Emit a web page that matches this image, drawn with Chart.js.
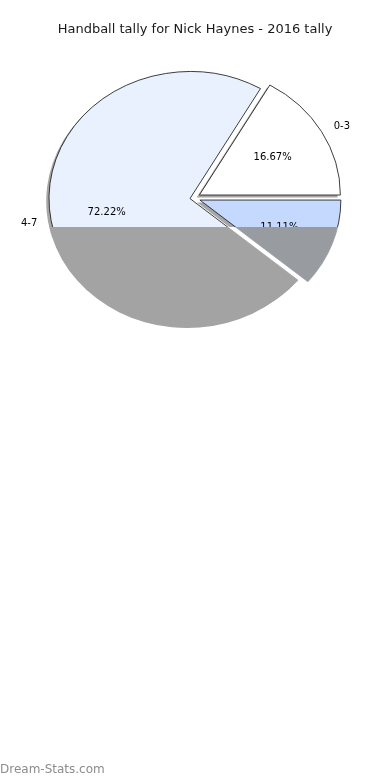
<!DOCTYPE html>
<html>
<head>
<meta charset="utf-8">
<script src="https://cdn.jsdelivr.net/npm/chart.js@4/dist/chart.umd.min.js"></script>
<style>
  html, body { margin: 0; padding: 0; background: #ffffff; }
  #wrap { position: relative; width: 390px; height: 780px; }
  canvas { display: block; }
</style>
</head>
<body>
<div id="wrap"><canvas id="c" width="390" height="780"></canvas></div>
<script>
// Tally data
const title = 'Handball tally for Nick Haynes - 2016 tally';
const categories = ['0-3', '4-7', '8+'];
const values = [3, 13, 2];

// Styling per category
const explodePx = [6, 3.3, 6];
const topColors = ['#ffffff', '#eaf1fe', '#c5d9ff'];
const lowColors = ['#a4a4a4', '#a3a3a3', '#989ba0'];
const lowShadow = [false, true, false];

const W = 390, H = 780;
const RADIUS = 127;          // vertical radius of the pie
const STRETCH = 141 / 127;   // horizontal stretch of the pie
const CUT_Y = 227;           // lower band is drawn in grey
const SHADOW_DX = -2.5, SHADOW_DY = 2.5;
const FONT = '"DejaVu Sans", "Liberation Sans", sans-serif';

const canvas = document.getElementById('c');
const ctx = canvas.getContext('2d');

// slices run clockwise from 3 o'clock, so the categories are fed in reverse
const order = categories.map((_, i) => i).reverse();
const total = values.reduce((a, b) => a + b, 0);

// vertical explode shift of each slot, used to keep the grey band level
const slotDy = [];
{
  let acc = 0;
  order.forEach((i) => {
    const mid = (acc + values[i] / 2) / total * Math.PI * 2;
    slotDy.push(Math.sin(mid) * explodePx[i]);
    acc += values[i];
  });
}

function band(top, low, dy) {
  const g = ctx.createLinearGradient(0, 0, 0, H);
  const s = (CUT_Y - dy) / H;
  g.addColorStop(0, top);
  g.addColorStop(s, top);
  g.addColorStop(s, low);
  g.addColorStop(1, low);
  return g;
}

function stretch(c, chart) {
  const a = chart.chartArea;
  const cx = (a.left + a.right) / 2;
  const cy = (a.top + a.bottom) / 2;
  c.translate(cx, cy);
  c.scale(STRETCH, 1);
  c.translate(-cx, -cy);
}

function explodeShift(arc, k) {
  const mid = (arc.startAngle + arc.endAngle) / 2;
  const e = explodePx[order[k]];
  return [Math.cos(mid) * e, Math.sin(mid) * e];
}

function wedgePath(c, x, y, arc) {
  c.beginPath();
  c.moveTo(x, y);
  c.arc(x, y, arc.outerRadius, arc.startAngle, arc.endAngle);
  c.closePath();
}

// Draws shadows and exploded wedges on a stretched canvas
const explodedPie = {
  id: 'explodedPie',
  beforeDatasetDraw(chart, args) {
    const c = chart.ctx;
    const arcs = args.meta.data;
    c.save();
    stretch(c, chart);

    // drop shadow in the upper band
    c.save();
    c.beginPath();
    c.rect(-W, 0, 3 * W, CUT_Y);
    c.clip();
    c.fillStyle = '#a6a6a6';
    arcs.forEach((arc, k) => {
      const [dx, dy] = explodeShift(arc, k);
      wedgePath(c, arc.x + dx + SHADOW_DX, arc.y + dy + SHADOW_DY, arc);
      c.fill();
    });
    c.restore();

    // drop shadow in the lower band
    c.save();
    c.beginPath();
    c.rect(-W, CUT_Y, 3 * W, H);
    c.clip();
    arcs.forEach((arc, k) => {
      const i = order[k];
      if (!lowShadow[i]) return;
      const [dx, dy] = explodeShift(arc, k);
      c.fillStyle = lowColors[i];
      wedgePath(c, arc.x + dx + SHADOW_DX, arc.y + dy + SHADOW_DY, arc);
      c.fill();
    });
    c.restore();

    arcs.forEach((arc, k) => {
      const [dx, dy] = explodeShift(arc, k);
      c.save();
      c.translate(dx, dy);
      arc.draw(c);
      c.restore();
    });
    c.restore();
    return false;
  },
  afterDraw(chart) {
    const c = chart.ctx;
    const a = chart.chartArea;
    const cx = (a.left + a.right) / 2;
    const arcs = chart.getDatasetMeta(0).data;
    const toX = (x) => cx + (x - cx) * STRETCH;

    c.save();
    c.beginPath();
    c.rect(0, 0, W, CUT_Y);
    c.clip();
    c.fillStyle = '#000000';
    c.font = '10px ' + FONT;
    c.textBaseline = 'middle';
    arcs.forEach((arc, k) => {
      const i = order[k];
      const mid = (arc.startAngle + arc.endAngle) / 2;
      const [dx, dy] = explodeShift(arc, k);
      const ox = arc.x + dx, oy = arc.y + dy;
      const r = arc.outerRadius;

      // percentage inside the wedge
      c.textAlign = 'center';
      c.fillText((values[i] / total * 100).toFixed(2) + '%',
        toX(ox + Math.cos(mid) * r * 0.6), oy + Math.sin(mid) * r * 0.6 + 1);

      // category name outside the wedge
      c.textAlign = Math.cos(mid) >= 0 ? 'left' : 'right';
      c.fillText(categories[i],
        toX(ox + Math.cos(mid) * r * 1.1), oy + Math.sin(mid) * r * 1.1 + 1);
    });
    c.restore();

    c.save();
    c.fillStyle = '#1a1a1a';
    c.font = '13px ' + FONT;
    c.textAlign = 'center';
    c.textBaseline = 'middle';
    c.fillText(title, 195, 30);

    c.fillStyle = '#8c8c8c';
    c.font = '12px ' + FONT;
    c.textAlign = 'left';
    c.fillText('Dream-Stats.com', 0, 770);
    c.restore();
  }
};

new Chart(ctx, {
  type: 'pie',
  data: {
    labels: order.map(i => categories[i]),
    datasets: [{
      data: order.map(i => values[i]),
      backgroundColor: order.map((i, k) => band(topColors[i], lowColors[i], slotDy[k])),
      borderColor: order.map((i, k) => band('#1a1a1a', lowColors[i], slotDy[k])),
      borderWidth: 0.8,
      offset: 0
    }]
  },
  options: {
    responsive: false,
    animation: false,
    events: [],
    rotation: 90,
    radius: RADIUS,
    layout: { padding: { left: 0, right: 2.8, top: 0, bottom: 384 } },
    plugins: {
      legend: { display: false },
      tooltip: { enabled: false },
      title: { display: false }
    }
  },
  plugins: [explodedPie]
});
</script>
</body>
</html>
